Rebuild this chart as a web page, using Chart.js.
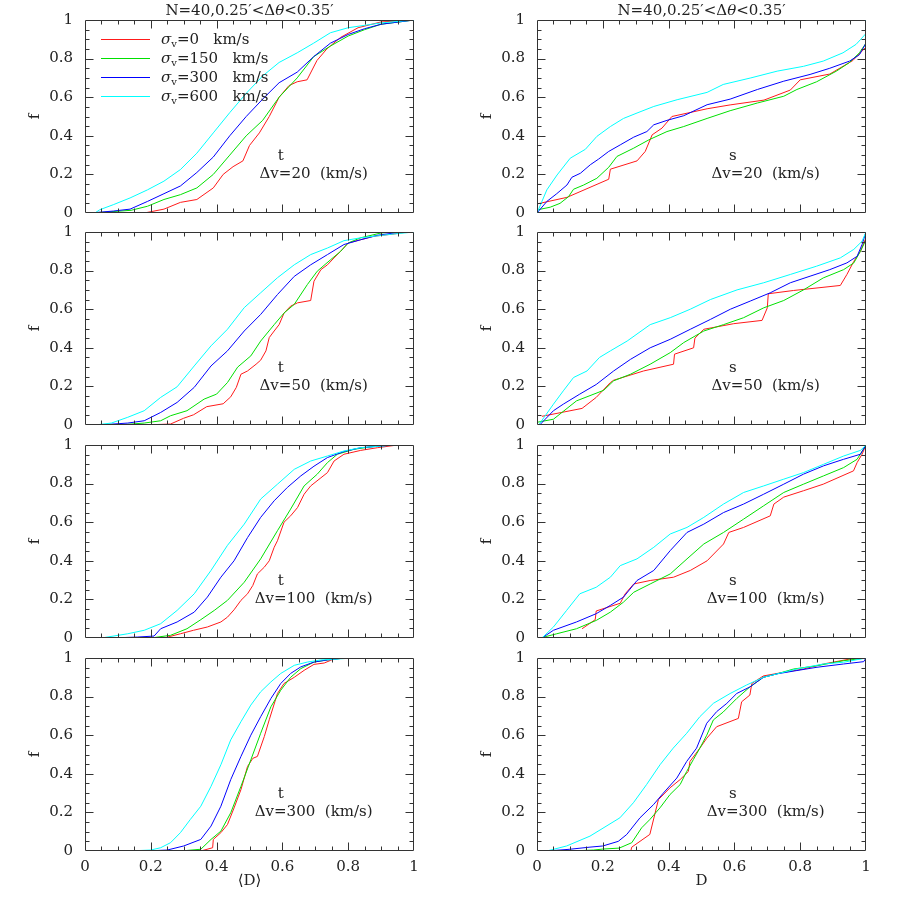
<!DOCTYPE html>
<html>
<head>
<meta charset="utf-8">
<script src="https://cdn.jsdelivr.net/npm/chart.js@4.4.1/dist/chart.umd.min.js"></script>
<style>
  body { margin: 0; background: #fff; width: 900px; height: 900px; position: relative; overflow: hidden; }
  canvas { position: absolute; }
</style>
</head>
<body>
<script>
// ---- data: cumulative fraction f, [x, f] pairs ----
const sigmas = ['0', '150', '300', '600'];
const dvs = ['20', '50', '100', '300'];
const TICK_STEP = 0.2;

// t panels (x = <D>)
const t20_0 = [[0.18,0],[0.24,0.02],[0.29,0.055],[0.34,0.07],[0.39,0.13],[0.42,0.2],[0.45,0.24],[0.48,0.27],[0.50,0.35],[0.53,0.415],[0.56,0.5],[0.59,0.6],[0.62,0.66],[0.645,0.68],[0.675,0.69],[0.705,0.79],[0.735,0.85],[0.777,0.91],[0.83,0.96],[0.90,0.99],[1,1]];
const t20_150 = [[0.025,0],[0.14,0.014],[0.19,0.035],[0.24,0.07],[0.29,0.095],[0.34,0.13],[0.39,0.2],[0.44,0.30],[0.49,0.4],[0.54,0.48],[0.59,0.6],[0.645,0.70],[0.695,0.81],[0.746,0.865],[0.8,0.917],[0.85,0.95],[0.9,0.978],[1,1]];
const t20_300 = [[0.015,0],[0.086,0.01],[0.137,0.02],[0.19,0.06],[0.24,0.10],[0.29,0.14],[0.34,0.21],[0.39,0.29],[0.44,0.40],[0.49,0.50],[0.54,0.59],[0.59,0.675],[0.645,0.73],[0.695,0.81],[0.746,0.88],[0.8,0.925],[0.85,0.955],[0.9,0.978],[1,1]];
const t20_600 = [[0.03,0],[0.045,0.017],[0.086,0.043],[0.137,0.078],[0.19,0.12],[0.24,0.165],[0.29,0.225],[0.34,0.31],[0.39,0.415],[0.44,0.52],[0.49,0.62],[0.54,0.71],[0.59,0.78],[0.645,0.83],[0.695,0.88],[0.746,0.934],[0.8,0.96],[0.9,0.985],[1,1]];

const t50_0 = [[0.18,0],[0.26,0.005],[0.30,0.035],[0.33,0.053],[0.37,0.095],[0.42,0.11],[0.443,0.146],[0.46,0.195],[0.474,0.263],[0.494,0.28],[0.52,0.315],[0.534,0.336],[0.55,0.384],[0.56,0.453],[0.575,0.487],[0.59,0.52],[0.605,0.58],[0.625,0.616],[0.646,0.633],[0.686,0.645],[0.696,0.745],[0.717,0.805],[0.737,0.83],[0.757,0.866],[0.777,0.90],[0.80,0.943],[0.838,0.96],[0.878,0.978],[0.94,0.99],[0.98,1]];
const t50_150 = [[0.10,0],[0.18,0.01],[0.23,0.022],[0.26,0.048],[0.31,0.074],[0.362,0.134],[0.40,0.16],[0.433,0.22],[0.464,0.30],[0.504,0.358],[0.534,0.435],[0.575,0.52],[0.605,0.58],[0.636,0.625],[0.676,0.728],[0.706,0.797],[0.747,0.857],[0.777,0.90],[0.80,0.943],[0.838,0.97],[0.90,0.995],[0.94,1]];
const t50_300 = [[0.04,0],[0.13,0.01],[0.18,0.022],[0.23,0.065],[0.28,0.117],[0.332,0.195],[0.383,0.306],[0.433,0.384],[0.484,0.487],[0.534,0.573],[0.585,0.676],[0.636,0.77],[0.686,0.83],[0.737,0.883],[0.787,0.935],[0.838,0.96],[0.889,0.983],[0.94,0.995],[0.98,1]];
const t50_600 = [[0.03,0],[0.08,0.01],[0.13,0.04],[0.18,0.074],[0.23,0.143],[0.28,0.198],[0.332,0.306],[0.383,0.41],[0.433,0.496],[0.484,0.608],[0.534,0.685],[0.585,0.763],[0.636,0.83],[0.686,0.883],[0.737,0.917],[0.787,0.955],[0.838,0.97],[0.889,0.98],[0.94,0.99],[1,1]];

const t100_0 = [[0.24,0],[0.29,0.022],[0.33,0.04],[0.372,0.057],[0.413,0.083],[0.433,0.108],[0.453,0.146],[0.474,0.195],[0.494,0.229],[0.51,0.272],[0.524,0.332],[0.545,0.367],[0.56,0.40],[0.575,0.47],[0.585,0.504],[0.605,0.60],[0.625,0.633],[0.646,0.676],[0.666,0.745],[0.686,0.788],[0.717,0.83],[0.737,0.857],[0.757,0.917],[0.787,0.952],[0.838,0.972],[0.889,0.986],[0.95,1]];
const t100_150 = [[0.20,0],[0.26,0.014],[0.31,0.048],[0.352,0.095],[0.393,0.143],[0.433,0.195],[0.484,0.289],[0.534,0.41],[0.585,0.556],[0.625,0.668],[0.666,0.788],[0.706,0.849],[0.737,0.909],[0.767,0.952],[0.818,0.978],[0.889,0.995],[0.94,1]];
const t100_300 = [[0.08,0],[0.16,0.005],[0.21,0.01],[0.23,0.048],[0.28,0.083],[0.332,0.134],[0.372,0.212],[0.413,0.315],[0.453,0.40],[0.494,0.52],[0.534,0.625],[0.575,0.711],[0.615,0.78],[0.656,0.84],[0.696,0.89],[0.737,0.935],[0.787,0.966],[0.838,0.986],[0.94,1]];
const t100_600 = [[0.05,0],[0.13,0.022],[0.18,0.04],[0.23,0.074],[0.28,0.143],[0.332,0.229],[0.383,0.35],[0.433,0.48],[0.484,0.59],[0.534,0.72],[0.585,0.797],[0.636,0.874],[0.686,0.917],[0.737,0.943],[0.787,0.969],[0.838,0.986],[0.94,1]];

const t300_0 = [[0.352,0],[0.388,0.017],[0.39,0.06],[0.413,0.095],[0.433,0.137],[0.453,0.223],[0.474,0.318],[0.494,0.438],[0.51,0.48],[0.524,0.49],[0.545,0.593],[0.56,0.68],[0.585,0.816],[0.605,0.868],[0.636,0.90],[0.666,0.936],[0.696,0.967],[0.727,0.974],[0.747,0.988],[0.76,1]];
const t300_150 = [[0.29,0],[0.352,0.009],[0.383,0.06],[0.413,0.103],[0.443,0.198],[0.474,0.335],[0.504,0.472],[0.534,0.61],[0.565,0.747],[0.595,0.833],[0.625,0.90],[0.656,0.945],[0.696,0.979],[0.737,0.99],[0.79,1]];
const t300_300 = [[0.18,0],[0.25,0.005],[0.30,0.026],[0.352,0.06],[0.383,0.129],[0.413,0.232],[0.443,0.37],[0.474,0.49],[0.504,0.60],[0.534,0.696],[0.565,0.79],[0.595,0.868],[0.625,0.92],[0.656,0.954],[0.696,0.979],[0.737,0.99],[0.79,1]];
const t300_600 = [[0.13,0],[0.20,0.005],[0.23,0.017],[0.26,0.043],[0.29,0.095],[0.32,0.163],[0.352,0.232],[0.383,0.335],[0.413,0.447],[0.443,0.576],[0.474,0.67],[0.504,0.756],[0.534,0.825],[0.565,0.876],[0.595,0.92],[0.636,0.962],[0.676,0.979],[0.717,0.99],[0.818,1]];

// s panels (x = D)
const s20_0 = [[0,0.047],[0.091,0.081],[0.218,0.175],[0.223,0.227],[0.304,0.27],[0.329,0.319],[0.35,0.405],[0.38,0.44],[0.41,0.50],[0.517,0.54],[0.587,0.56],[0.69,0.585],[0.77,0.637],[0.80,0.69],[0.89,0.72],[0.96,0.79],[1,0.86],[1,1]];
const s20_150 = [[0,0.016],[0.04,0.03],[0.07,0.05],[0.096,0.085],[0.111,0.123],[0.142,0.145],[0.182,0.18],[0.218,0.237],[0.243,0.293],[0.294,0.336],[0.34,0.379],[0.395,0.422],[0.446,0.448],[0.517,0.49],[0.587,0.53],[0.67,0.57],[0.75,0.605],[0.79,0.64],[0.85,0.68],[0.91,0.735],[0.95,0.78],[0.98,0.83],[1,0.88],[1,1]];
const s20_300 = [[0,0],[0.03,0.06],[0.06,0.10],[0.091,0.145],[0.106,0.185],[0.132,0.206],[0.162,0.25],[0.187,0.279],[0.218,0.319],[0.253,0.353],[0.294,0.393],[0.334,0.422],[0.355,0.457],[0.395,0.48],[0.446,0.504],[0.517,0.561],[0.587,0.59],[0.67,0.64],[0.75,0.683],[0.83,0.718],[0.89,0.75],[0.95,0.787],[0.98,0.82],[1,0.88],[1,1]];
const s20_600 = [[0,0],[0.03,0.12],[0.061,0.197],[0.101,0.284],[0.147,0.33],[0.182,0.397],[0.223,0.448],[0.263,0.49],[0.304,0.518],[0.355,0.552],[0.426,0.587],[0.517,0.625],[0.566,0.666],[0.65,0.70],[0.73,0.735],[0.81,0.76],[0.87,0.787],[0.93,0.83],[0.97,0.874],[1,0.93],[1,1]];

const s50_0 = [[0.015,0.045],[0.137,0.086],[0.18,0.143],[0.223,0.22],[0.233,0.232],[0.324,0.28],[0.415,0.315],[0.418,0.367],[0.476,0.40],[0.48,0.45],[0.507,0.496],[0.598,0.525],[0.684,0.542],[0.70,0.607],[0.703,0.68],[0.78,0.697],[0.922,0.723],[0.942,0.78],[0.963,0.848],[0.983,0.90],[1,0.97],[1,1]];
const s50_150 = [[0,0.014],[0.05,0.03],[0.12,0.125],[0.203,0.18],[0.233,0.229],[0.284,0.263],[0.344,0.315],[0.405,0.375],[0.446,0.427],[0.507,0.487],[0.567,0.52],[0.628,0.556],[0.689,0.607],[0.75,0.645],[0.81,0.70],[0.87,0.762],[0.932,0.805],[0.963,0.84],[0.983,0.90],[1,0.96],[1,1]];
const s50_300 = [[0.008,0],[0.05,0.074],[0.08,0.108],[0.13,0.16],[0.18,0.21],[0.233,0.28],[0.284,0.34],[0.344,0.40],[0.405,0.444],[0.466,0.496],[0.527,0.547],[0.588,0.60],[0.648,0.642],[0.709,0.685],[0.77,0.737],[0.83,0.771],[0.89,0.805],[0.942,0.84],[0.973,0.874],[0.988,0.935],[1,1]];
const s50_600 = [[0.005,0],[0.05,0.108],[0.08,0.177],[0.111,0.246],[0.152,0.28],[0.19,0.35],[0.223,0.384],[0.274,0.435],[0.344,0.52],[0.405,0.556],[0.466,0.60],[0.527,0.65],[0.608,0.70],[0.689,0.737],[0.77,0.78],[0.85,0.823],[0.922,0.866],[0.963,0.91],[0.988,0.952],[1,1]];

const s100_0 = [[0.137,0.048],[0.177,0.095],[0.18,0.14],[0.253,0.18],[0.268,0.229],[0.294,0.28],[0.344,0.298],[0.415,0.315],[0.466,0.35],[0.517,0.40],[0.567,0.487],[0.583,0.547],[0.628,0.573],[0.709,0.633],[0.72,0.694],[0.75,0.73],[0.81,0.763],[0.87,0.797],[0.962,0.866],[0.973,0.909],[0.988,0.952],[1,1]];
const s100_150 = [[0.01,0],[0.06,0.022],[0.12,0.048],[0.18,0.091],[0.223,0.134],[0.263,0.186],[0.294,0.237],[0.344,0.28],[0.405,0.332],[0.456,0.41],[0.507,0.487],[0.567,0.547],[0.628,0.616],[0.689,0.685],[0.75,0.754],[0.81,0.797],[0.871,0.84],[0.932,0.883],[0.973,0.926],[1,1]];
const s100_300 = [[0.015,0],[0.05,0.04],[0.12,0.083],[0.18,0.126],[0.223,0.169],[0.263,0.212],[0.304,0.298],[0.355,0.35],[0.405,0.453],[0.456,0.547],[0.507,0.59],[0.567,0.65],[0.628,0.694],[0.689,0.745],[0.75,0.797],[0.81,0.849],[0.871,0.892],[0.932,0.926],[0.983,0.952],[1,1]];
const s100_600 = [[0.015,0],[0.05,0.057],[0.09,0.143],[0.13,0.229],[0.18,0.263],[0.223,0.315],[0.253,0.375],[0.304,0.41],[0.355,0.47],[0.405,0.539],[0.456,0.573],[0.507,0.625],[0.567,0.694],[0.628,0.754],[0.689,0.788],[0.75,0.823],[0.81,0.857],[0.871,0.90],[0.932,0.943],[0.983,0.972],[1,1]];

const s300_0 = [[0.285,0],[0.288,0.02],[0.343,0.086],[0.369,0.266],[0.404,0.327],[0.435,0.37],[0.46,0.412],[0.465,0.464],[0.495,0.533],[0.516,0.584],[0.546,0.644],[0.612,0.687],[0.622,0.773],[0.647,0.808],[0.653,0.868],[0.688,0.907],[0.75,0.926],[0.81,0.943],[0.871,0.969],[0.952,0.995],[1,1]];
const s300_150 = [[0.10,0],[0.172,0.005],[0.2,0.01],[0.25,0.015],[0.288,0.043],[0.318,0.12],[0.343,0.163],[0.374,0.224],[0.404,0.292],[0.435,0.344],[0.455,0.412],[0.475,0.473],[0.495,0.533],[0.516,0.60],[0.536,0.679],[0.566,0.72],[0.607,0.79],[0.647,0.85],[0.688,0.90],[0.73,0.918],[0.78,0.943],[0.851,0.96],[0.932,0.986],[1,1]];
const s300_300 = [[0.03,0],[0.10,0.009],[0.161,0.02],[0.2,0.026],[0.247,0.05],[0.273,0.086],[0.313,0.172],[0.354,0.24],[0.384,0.30],[0.425,0.378],[0.455,0.464],[0.485,0.533],[0.516,0.662],[0.546,0.722],[0.577,0.765],[0.607,0.816],[0.647,0.85],[0.688,0.90],[0.73,0.918],[0.79,0.935],[0.851,0.952],[0.932,0.969],[0.993,0.981],[1,1]];
const s300_600 = [[0.03,0],[0.09,0.026],[0.161,0.077],[0.252,0.172],[0.293,0.25],[0.333,0.344],[0.374,0.447],[0.414,0.533],[0.455,0.61],[0.495,0.696],[0.536,0.765],[0.587,0.816],[0.637,0.86],[0.688,0.90],[0.73,0.918],[0.79,0.943],[0.871,0.969],[0.932,0.978],[1,1]];

// ---- layout / style ----
const COLORS = ['#ff1a1a', '#00e000', '#0000ff', '#00ffff'];
const PLOT_W = 329, PLOT_H = 193;
const COL_X = [85, 537];
const ROW_Y = [20, 232, 445, 658];
const PADL = 85, PADT = 21, PADR = 14, PADB = 48;
const FONT = '"DejaVu Serif", "Liberation Serif", serif';
const INK = '#222';

const panels = [
    { col: 0, row: 0, kind: 't', dv: dvs[0], series: [t20_0, t20_150, t20_300, t20_600], legend: true, title: true },
    { col: 1, row: 0, kind: 's', dv: dvs[0], series: [s20_0, s20_150, s20_300, s20_600], title: true },
    { col: 0, row: 1, kind: 't', dv: dvs[1], series: [t50_0, t50_150, t50_300, t50_600] },
    { col: 1, row: 1, kind: 's', dv: dvs[1], series: [s50_0, s50_150, s50_300, s50_600] },
    { col: 0, row: 2, kind: 't', dv: dvs[2], series: [t100_0, t100_150, t100_300, t100_600] },
    { col: 1, row: 2, kind: 's', dv: dvs[2], series: [s100_0, s100_150, s100_300, s100_600] },
    { col: 0, row: 3, kind: 't', dv: dvs[3], series: [t300_0, t300_150, t300_300, t300_600], xTitle: '⟨D⟩' },
    { col: 1, row: 3, kind: 's', dv: dvs[3], series: [s300_0, s300_150, s300_300, s300_600], xTitle: 'D' }
];

const fmtTick = v => String(Math.round(v * 10) / 10);

// text made of pieces (italic greek, subscripts)
function drawRich(ctx, parts, x, y, align) {
    let total = 0;
    parts.forEach(p => { ctx.font = p.font; p.w = ctx.measureText(p.text).width; total += p.w; });
    let cx = align === 'center' ? x - total / 2 : x;
    ctx.textAlign = 'left';
    ctx.textBaseline = 'alphabetic';
    parts.forEach(p => {
        ctx.font = p.font;
        ctx.fillText(p.text, cx, y + (p.dy || 0));
        cx += p.w;
    });
}

const panelDeco = {
    id: 'panelDeco',
    afterDraw(chart, args, opts) {
        const { ctx, chartArea: ca } = chart;
        const xs = chart.scales.x, ys = chart.scales.y;
        const base = '15px ' + FONT, ital = 'italic 15px ' + FONT, sub = '10px ' + FONT;
        ctx.save();

        // frame with inward ticks on all four sides
        ctx.strokeStyle = '#333';
        ctx.lineWidth = 1;
        const L = Math.round(ca.left) + 0.5, R = Math.round(ca.right) - 0.5;
        const T = Math.round(ca.top) + 0.5, B = Math.round(ca.bottom) - 0.5;
        ctx.beginPath();
        ctx.rect(L, T, R - L, B - T);
        for (let k = 1; k < 20; k++) {
            const len = k % 4 === 0 ? 8 : 4;
            const px = Math.round(xs.getPixelForValue(k / 20)) + 0.5;
            ctx.moveTo(px, B); ctx.lineTo(px, B - len);
            ctx.moveTo(px, T); ctx.lineTo(px, T + len);
            const py = Math.round(ys.getPixelForValue(k / 20)) + 0.5;
            ctx.moveTo(L, py); ctx.lineTo(L + len, py);
            ctx.moveTo(R, py); ctx.lineTo(R - len, py);
        }
        ctx.stroke();

        ctx.fillStyle = INK;
        // panel annotation
        ctx.font = base;
        ctx.textAlign = 'center';
        ctx.textBaseline = 'middle';
        ctx.fillText(opts.kind, xs.getPixelForValue(0.595), ys.getPixelForValue(0.295));
        ctx.fillText('Δv=' + opts.dv + '  (km/s)', xs.getPixelForValue(0.695), ys.getPixelForValue(0.2));

        // y title
        ctx.save();
        ctx.translate(ca.left - 50, (ca.top + ca.bottom) / 2);
        ctx.rotate(-Math.PI / 2);
        ctx.fillText('f', 0, 0);
        ctx.restore();

        if (opts.xTitle) {
            ctx.fillText(opts.xTitle, (ca.left + ca.right) / 2, ca.bottom + 30);
        }

        if (opts.title) {
            drawRich(ctx, [
                { text: 'N=40,0.25′<Δ', font: base },
                { text: 'θ', font: ital },
                { text: '<0.35′', font: base }
            ], (ca.left + ca.right) / 2, ca.top - 5, 'center');
        }

        if (opts.legend) {
            chart.data.datasets.forEach((ds, i) => {
                const y = ca.top + 19 + i * 19;
                ctx.strokeStyle = ds.borderColor;
                ctx.beginPath();
                ctx.moveTo(ca.left + 16, Math.round(y) + 0.5);
                ctx.lineTo(ca.left + 65, Math.round(y) + 0.5);
                ctx.stroke();
                ctx.fillStyle = INK;
                drawRich(ctx, [
                    { text: 'σ', font: ital },
                    { text: 'v', font: sub, dy: 3 },
                    { text: '=' + sigmas[i] + '   km/s', font: base }
                ], ca.left + 76, y + 5, 'left');
            });
        }
        ctx.restore();
    }
};

panels.forEach(p => {
    const canvas = document.createElement('canvas');
    canvas.width = PADL + PLOT_W + PADR;
    canvas.height = PADT + PLOT_H + PADB;
    canvas.style.left = (COL_X[p.col] - PADL) + 'px';
    canvas.style.top = (ROW_Y[p.row] - PADT) + 'px';
    document.body.appendChild(canvas);

    const chart = new Chart(canvas, {
        type: 'line',
        data: {
            datasets: p.series.map((pts, i) => ({
                label: 'σv=' + sigmas[i] + ' km/s',
                data: pts.map(([x, y]) => ({ x, y })),
                borderColor: COLORS[i],
                borderWidth: 1,
                pointRadius: 0,
                fill: false,
                tension: 0,
                order: 3 - i
            }))
        },
        options: {
            responsive: false,
            animation: false,
            events: [],
            layout: { padding: { left: 0, top: PADT, right: PADR, bottom: 0 } },
            plugins: {
                legend: { display: false },
                tooltip: { enabled: false },
                panelDeco: { kind: p.kind, dv: p.dv, legend: !!p.legend, title: !!p.title, xTitle: p.xTitle }
            },
            scales: {
                x: {
                    type: 'linear', min: 0, max: 1,
                    grid: { display: false, drawTicks: false },
                    border: { display: false },
                    ticks: { display: p.row === 3, stepSize: TICK_STEP, callback: fmtTick, font: { family: FONT, size: 15 }, color: INK, padding: 7, maxRotation: 0 },
                    afterFit: s => { s.height = PADB; }
                },
                y: {
                    type: 'linear', min: 0, max: 1,
                    grid: { display: false, drawTicks: false },
                    border: { display: false },
                    ticks: { stepSize: TICK_STEP, callback: fmtTick, font: { family: FONT, size: 15 }, color: INK, padding: 12 },
                    afterFit: s => { s.width = PADL; }
                }
            }
        },
        plugins: [panelDeco]
    });

    // keep the plot box where the figure has it (labels can add layout padding)
    const ca = chart.chartArea;
    const dr = (canvas.width - PADR) - ca.right;
    const dt = ca.top - PADT;
    const db = (canvas.height - PADB) - ca.bottom;
    if (Math.abs(dr) > 0.1 || Math.abs(dt) > 0.1 || Math.abs(db) > 0.1) {
        const pad = chart.options.layout.padding;
        pad.right = PADR - dr;
        pad.top = PADT - dt;
        chart.update();
    }
});
</script>
</body>
</html>
